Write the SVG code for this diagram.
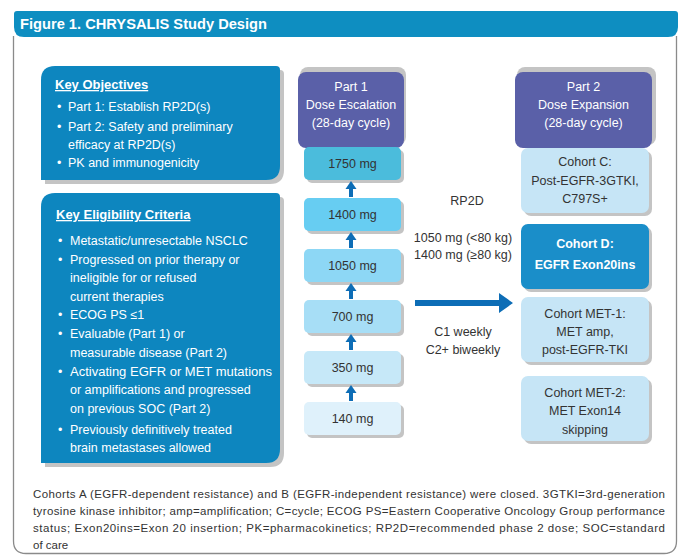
<svg xmlns="http://www.w3.org/2000/svg" width="685" height="558" viewBox="0 0 685 558">
<defs>
<style>
.t{font-family:"Liberation Sans","Noto Sans",Arial,sans-serif;}
.w{fill:#ffffff;}
.d{fill:#333333;}
.c{text-anchor:middle;}
.shadow{fill:#c4c4c4;}
.purple{fill:#5a60a8;}
.keybox{fill:#0d86bf;}
.coh{fill:#c6e5f6;}
</style>
</defs>
<rect x="0" y="0" width="685" height="558" fill="#ffffff"/>
<!-- frame -->
<path d="M13.5,36 L13.5,541 Q13.5,553.5 26,553.5 L664,553.5 Q676.5,553.5 676.5,541 L676.5,36" fill="none" stroke="#8a8a8a" stroke-width="1.3"/>
<g id="header">
<path d="M17,11 L675,11 Q678,11 678,14 L678,27 Q678,37 668,37 L24,37 Q14,37 14,27 L14,14 Q14,11 17,11 Z" fill="#0e8ec1"/>
<text x="20" y="29" class="t w" font-size="14.5" font-weight="bold" textLength="247" lengthAdjust="spacingAndGlyphs">Figure 1. CHRYSALIS Study Design</text>
</g>
<g id="key-objectives">
<path class="shadow" d="M45,184 L45,84 Q45,70 59,70 L280,70 Q284,70 284,74 L284,170 Q284,184 270,184 Z"/>
<path class="keybox" d="M41,180 L41,80 Q41,66 55,66 L276,66 Q280,66 280,70 L280,166 Q280,180 266,180 Z"/>
<text x="55" y="89" class="t w" font-size="13" font-weight="bold" text-decoration="underline">Key Objectives</text>
<g class="t w" font-size="12.5">
<text x="57" y="111">•</text><text x="68" y="111">Part 1: Establish RP2D(s)</text>
<text x="57" y="131">•</text><text x="68" y="131">Part 2: Safety and preliminary</text>
<text x="68" y="149">efficacy at RP2D(s)</text>
<text x="57" y="167">•</text><text x="68" y="167">PK and immunogenicity</text>
</g>
</g>
<g id="key-eligibility">
<path class="shadow" d="M45,467 L45,211 Q45,197 59,197 L280,197 Q284,197 284,201 L284,453 Q284,467 270,467 Z"/>
<path class="keybox" d="M41,463 L41,207 Q41,193 55,193 L276,193 Q280,193 280,197 L280,449 Q280,463 266,463 Z"/>
<text x="56" y="219" class="t w" font-size="13" font-weight="bold" text-decoration="underline">Key Eligibility Criteria</text>
<g class="t w" font-size="12.5">
<text x="58" y="245">•</text><text x="70" y="245">Metastatic/unresectable NSCLC</text>
<text x="58" y="264">•</text><text x="70" y="264">Progressed on prior therapy or</text>
<text x="70" y="282">ineligible for or refused</text>
<text x="70" y="301">current therapies</text>
<text x="58" y="319">•</text><text x="70" y="319">ECOG PS ≤1</text>
<text x="58" y="338">•</text><text x="70" y="338">Evaluable (Part 1) or</text>
<text x="70" y="357">measurable disease (Part 2)</text>
<text x="58" y="376">•</text><text x="70" y="376" textLength="202" lengthAdjust="spacingAndGlyphs">Activating EGFR or MET mutations</text>
<text x="70" y="394">or amplifications and progressed</text>
<text x="70" y="413">on previous SOC (Part 2)</text>
<text x="58" y="434">•</text><text x="70" y="434">Previously definitively treated</text>
<text x="70" y="452">brain metastases allowed</text>
</g>
</g>
<g id="part1">
<rect class="shadow" x="300" y="67" width="106" height="78" rx="8"/>
<rect class="purple" x="298" y="72" width="106" height="76" rx="8"/>
<g class="t w c" font-size="12.5">
<text x="351" y="91">Part 1</text>
<text x="351" y="109">Dose Escalation</text>
<text x="351" y="127">(28-day cycle)</text>
</g>
</g>
<g id="dose-1750">
<rect class="shadow" x="307" y="150" width="97" height="33" rx="5"/>
<rect x="304" y="147" width="97" height="33" rx="5" fill="#4bbcdc"/>
<text x="352.5" y="168" class="t d c" font-size="12.5">1750 mg</text>
</g>
<g id="dose-1400">
<rect class="shadow" x="307" y="201" width="97" height="33" rx="5"/>
<rect x="304" y="198" width="97" height="33" rx="5" fill="#67cdf2"/>
<text x="352.5" y="219" class="t d c" font-size="12.5">1400 mg</text>
</g>
<g id="dose-1050">
<rect class="shadow" x="307" y="252" width="97" height="33" rx="5"/>
<rect x="304" y="249" width="97" height="33" rx="5" fill="#8dd7f5"/>
<text x="352.5" y="270" class="t d c" font-size="12.5">1050 mg</text>
</g>
<g id="dose-700">
<rect class="shadow" x="307" y="303" width="97" height="33" rx="5"/>
<rect x="304" y="300" width="97" height="33" rx="5" fill="#a7def6"/>
<text x="352.5" y="321" class="t d c" font-size="12.5">700 mg</text>
</g>
<g id="dose-350">
<rect class="shadow" x="307" y="354" width="97" height="33" rx="5"/>
<rect x="304" y="351" width="97" height="33" rx="5" fill="#c6e8f8"/>
<text x="352.5" y="372" class="t d c" font-size="12.5">350 mg</text>
</g>
<g id="dose-140">
<rect class="shadow" x="307" y="405" width="97" height="33" rx="5"/>
<rect x="304" y="402" width="97" height="33" rx="5" fill="#dff1fb"/>
<text x="352.5" y="423" class="t d c" font-size="12.5">140 mg</text>
</g>
<g id="part2">
<rect class="shadow" x="517" y="67" width="139" height="78" rx="8"/>
<rect class="purple" x="515" y="72" width="137" height="76" rx="8"/>
<g class="t w c" font-size="12.5">
<text x="583.5" y="91">Part 2</text>
<text x="583.5" y="109">Dose Expansion</text>
<text x="583.5" y="127">(28-day cycle)</text>
</g>
</g>
<g id="cohort-c">
<rect class="shadow" x="524" y="151" width="128" height="65" rx="7"/>
<rect class="coh" x="521" y="148" width="128" height="65" rx="7"/>
<g class="t d c" font-size="12.5">
<text x="585" y="166">Cohort C:</text>
<text x="585" y="185">Post-EGFR-3GTKI,</text>
<text x="585" y="203">C797S+</text>
</g>
</g>
<g id="cohort-d">
<rect class="shadow" x="524" y="227" width="128" height="65" rx="7"/>
<rect x="521" y="224" width="128" height="65" rx="7" fill="#1a8ec9"/>
<g class="t w c" font-size="12.5" font-weight="bold">
<text x="585" y="248">Cohort D:</text>
<text x="585" y="269">EGFR Exon20ins</text>
</g>
</g>
<g id="cohort-met1">
<rect class="shadow" x="524" y="300" width="128" height="65" rx="7"/>
<rect class="coh" x="521" y="297" width="128" height="65" rx="7"/>
<g class="t d c" font-size="12.5">
<text x="585" y="318">Cohort MET-1:</text>
<text x="585" y="336">MET amp,</text>
<text x="585" y="354">post-EGFR-TKI</text>
</g>
</g>
<g id="cohort-met2">
<rect class="shadow" x="524" y="379" width="128" height="65" rx="7"/>
<rect class="coh" x="521" y="376" width="128" height="65" rx="7"/>
<g class="t d c" font-size="12.5">
<text x="585" y="397">Cohort MET-2:</text>
<text x="585" y="415">MET Exon14</text>
<text x="585" y="434">skipping</text>
</g>
</g>
<g id="rp2d-labels" class="t d c" font-size="12.5">
<text x="467" y="205">RP2D</text>
<text x="463" y="242">1050 mg (&lt;80 kg)</text>
<text x="463" y="259">1400 mg (≥80 kg)</text>
<text x="463" y="336">C1 weekly</text>
<text x="463" y="354">C2+ biweekly</text>
</g>
<g id="connectors" fill="#0d6db6">
<path d="M349,197 L349,189 L345.5,189 L351,181 L356.5,189 L353,189 L353,197 Z"/>
<path d="M349,248 L349,240 L345.5,240 L351,232 L356.5,240 L353,240 L353,248 Z"/>
<path d="M349,299 L349,291 L345.5,291 L351,283 L356.5,291 L353,291 L353,299 Z"/>
<path d="M349,350 L349,342 L345.5,342 L351,334 L356.5,342 L353,342 L353,350 Z"/>
<path d="M349,401 L349,393 L345.5,393 L351,385 L356.5,393 L353,393 L353,401 Z"/>
<path d="M415,300 L499,300 L499,293 L513,303 L499,313 L499,306 L415,306 Z"/>
</g>
<g id="footnote" class="t d" font-size="11.5">
<text x="33" y="498" textLength="632" lengthAdjust="spacing">Cohorts A (EGFR-dependent resistance) and B (EGFR-independent resistance) were closed. 3GTKI=3rd-generation</text>
<text x="33" y="515" textLength="632" lengthAdjust="spacing">tyrosine kinase inhibitor; amp=amplification; C=cycle; ECOG PS=Eastern Cooperative Oncology Group performance</text>
<text x="33" y="532" textLength="632" lengthAdjust="spacing">status; Exon20ins=Exon 20 insertion; PK=pharmacokinetics; RP2D=recommended phase 2 dose; SOC=standard</text>
<text x="33" y="549">of care</text>
</g>
</svg>
